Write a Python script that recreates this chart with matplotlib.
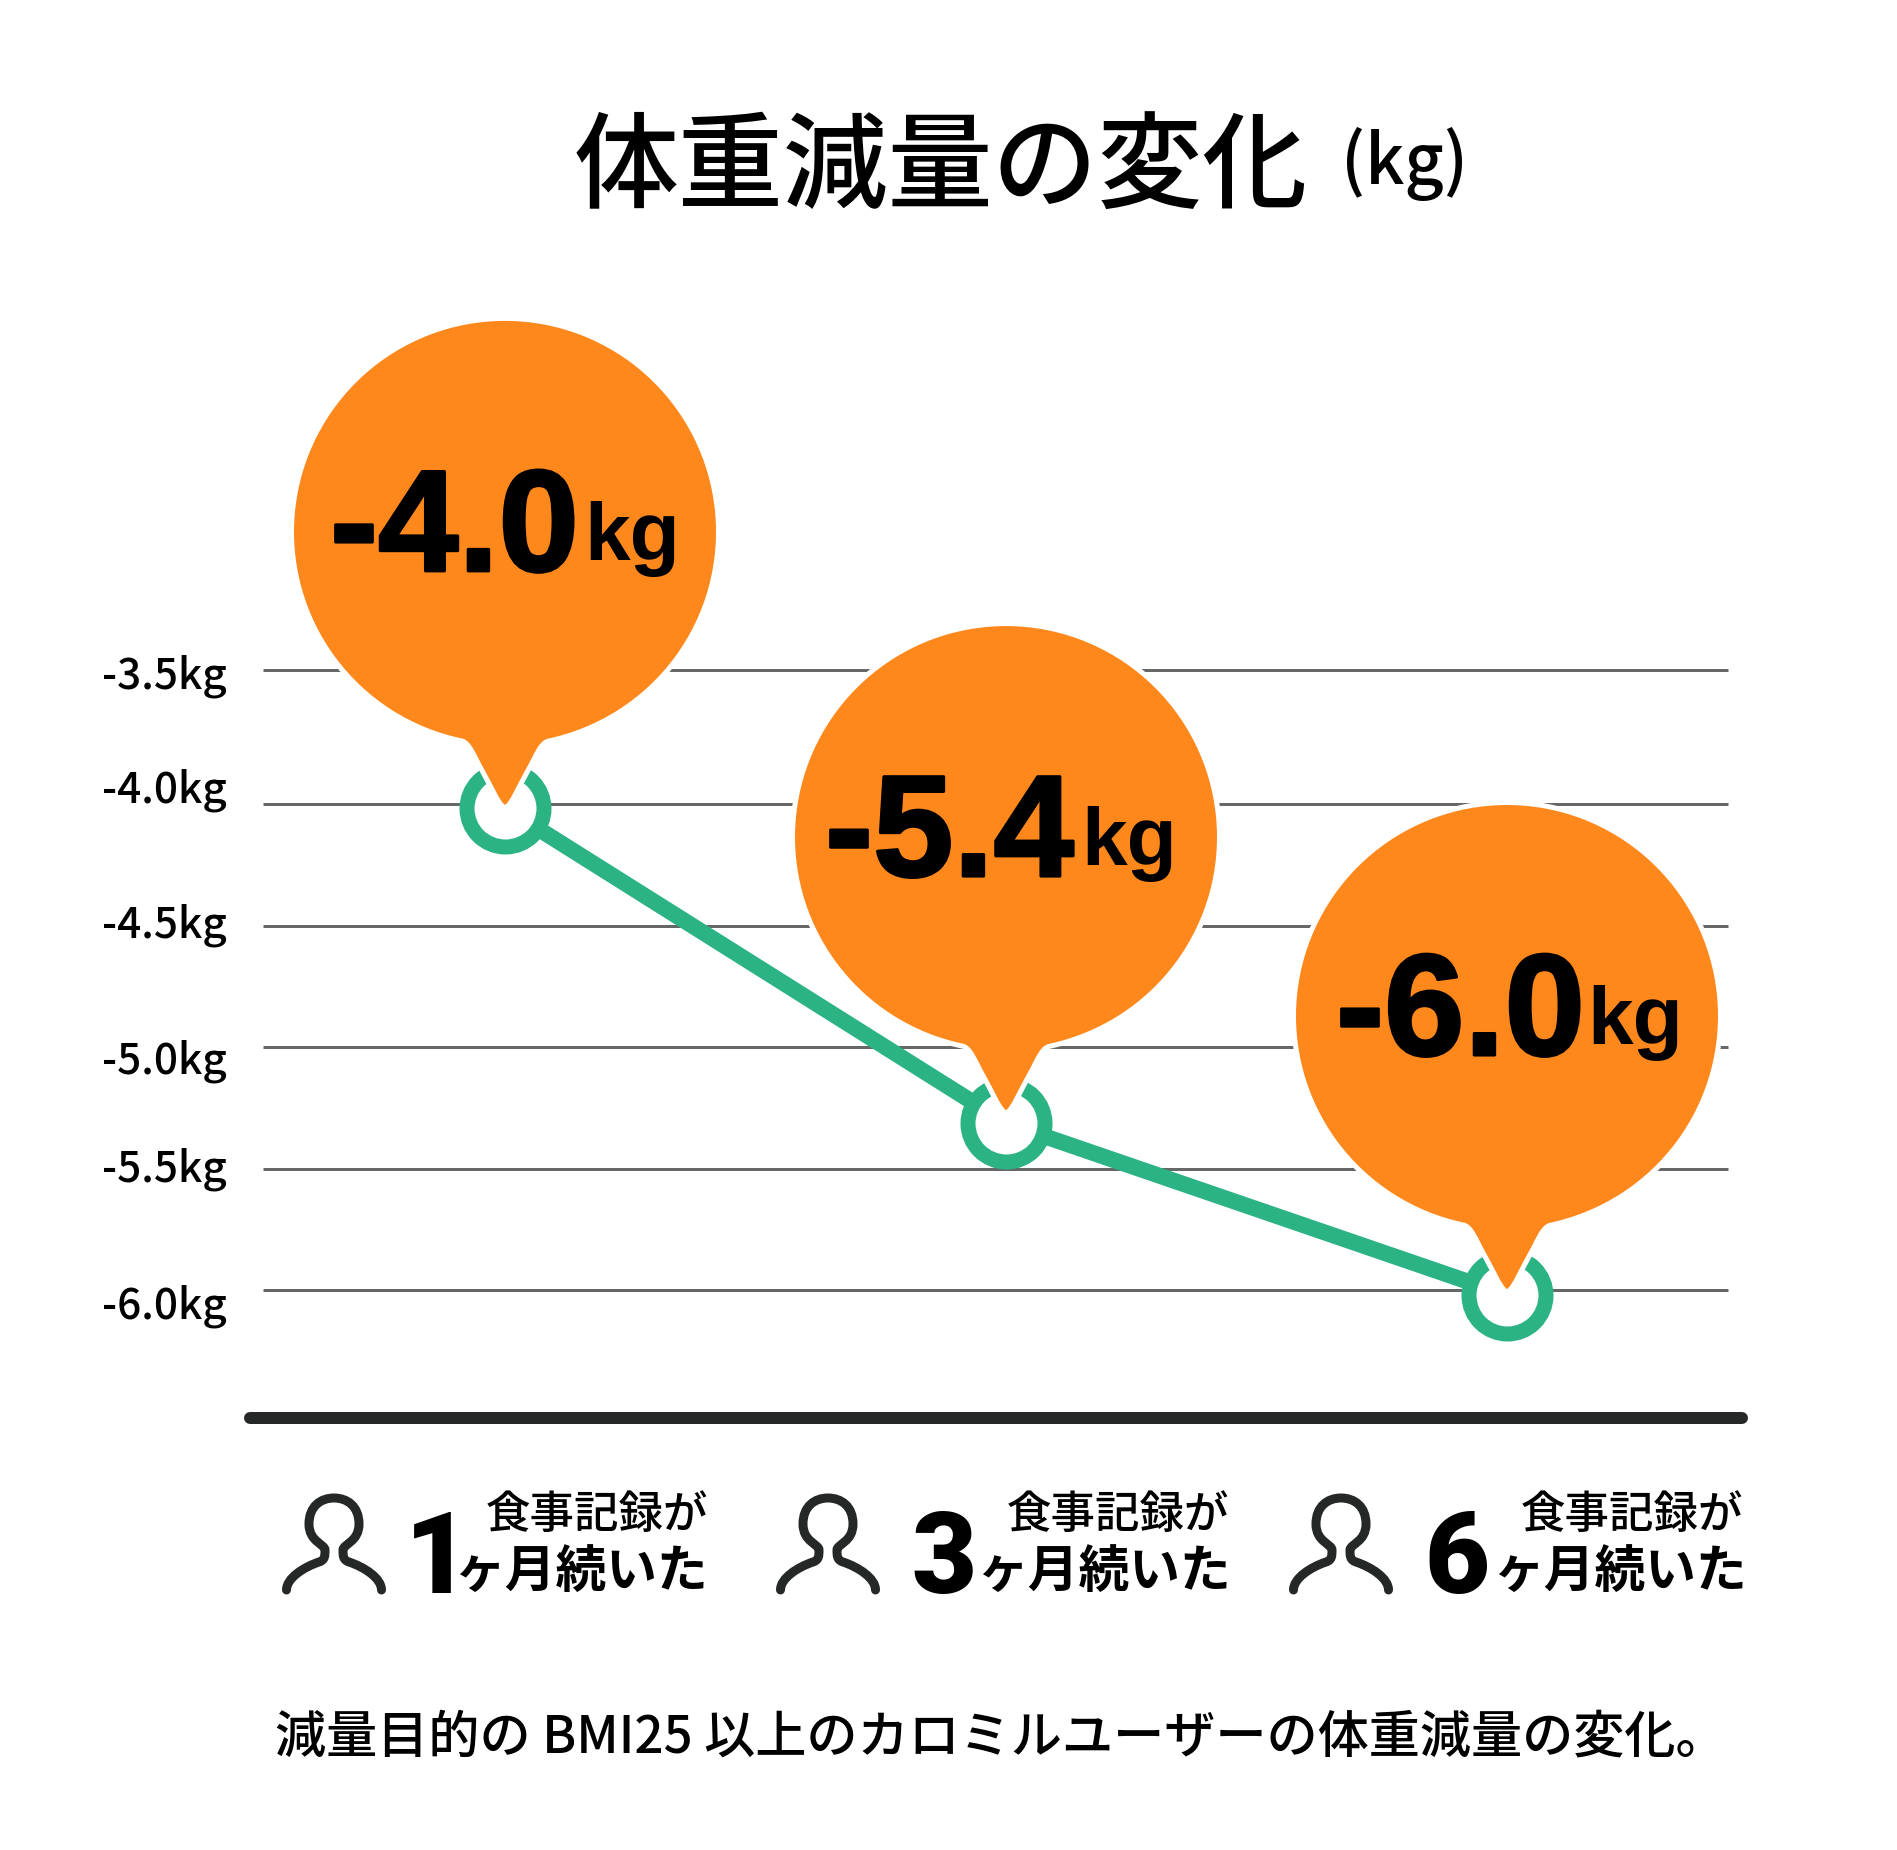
#!/usr/bin/python
# -*- coding: utf-8 -*-

import numpy as np
import matplotlib
matplotlib.use('Agg')
import matplotlib.pyplot as plt
import matplotlib.patheffects as pe
from matplotlib.patches import PathPatch
from matplotlib.path import Path
from matplotlib.transforms import Affine2D

plt.rcParams['font.family'] = ['Noto Sans CJK JP', 'DejaVu Sans']

# values
months = [1, 3, 6]
plotted_values = [-4.016, -5.312, -6.019]
bubble_labels = ['-4.0', '-5.4', '-6.0']
grid_values = [-3.447, -4.0, -4.5, -5.0, -5.5, -6.0]
tick_labels = ['-3.5kg', '-4.0kg', '-4.5kg', '-5.0kg', '-5.5kg', '-6.0kg']
baseline_value = -6.525

title = '体重減量の変化'
title_unit = '(kg)'
line_top = '食事記録が'
line_bottom = 'ヶ月続いた'
footer = '減量目的の BMI25 以上のカロミルユーザーの体重減量の変化。'

W, H = 1897, 1850
PX = 72.0 / 100  # one pixel in points at dpi 100

ORANGE = '#FF881C'
GREEN = '#2BB383'
DARK = '#262828'
GRID = '#666868'

BIG = 'Liberation Sans'


def px(x, y):
    # picture pixel (origin top left) to figure fraction
    return x / W, 1 - y / H


def bubble_path():
    # pin shape with its tip at the origin, in pixels
    r = 211.0
    cy = 273.0
    a = np.degrees(np.arctan2(-207.0, 42.0))
    arc = Path.arc(a, 180 - a)
    verts = [(0, 0), (5, 3), (12, 20), (21, 36), (29, 50), (33, 63), (42, 66)]
    codes = [Path.MOVETO] + [Path.CURVE4] * 6
    arc_v = arc.vertices * r + [0, cy]
    verts += [tuple(v) for v in arc_v[1:]]
    codes += list(arc.codes[1:])
    verts += [(-33, 63), (-29, 50), (-21, 36), (-12, 20), (-5, 3), (0, 0)]
    codes += [Path.CURVE4] * 6
    return Path(verts, codes)


def person_path():
    # outline of the person icon, origin at the bottom middle, in pixels
    pts = [
        (-47.5, -4), (-47.5, -16), (-30, -27), (-15, -32),
        (-9, -34), (-9, -38), (-9, -44),
        (-9, -50), (-25, -52), (-25, -70),
        (-25, -88), (-13, -96), (0, -96),
        (13, -96), (25, -88), (25, -70),
        (25, -52), (9, -50), (9, -44),
        (9, -38), (9, -34), (15, -32),
        (30, -27), (47.5, -16), (47.5, -4),
    ]
    pts = [(x, -y - 4) for x, y in pts]
    return Path(pts, [Path.MOVETO] + [Path.CURVE4] * 24)


fig = plt.figure(figsize=(W / 100, H / 100), dpi=100, facecolor='white')
ax = fig.add_axes([0, 0, 1, 1])
ax.set_xlim((0 - 505) / 501.0, (W - 505) / 501.0)
ax.set_ylim(-4 - (H - 804) / 243.2, -4 + 804 / 243.2)
ax.axis('off')

x = np.arange(len(months))

ax.hlines(grid_values, -0.483, 2.441, color=GRID, lw=3 * PX, zorder=1)
ax.plot([-0.508, 2.469], [baseline_value] * 2, color=DARK, lw=12 * PX,
        solid_capstyle='round', zorder=1)

ax.plot(x, plotted_values, color=GREEN, lw=16 * PX, zorder=2, solid_capstyle='butt')
ax.plot(x, plotted_values, ls='none', marker='o', ms=77 * PX, mew=15 * PX,
        mfc='white', mec=GREEN, zorder=3)

# y axis labels do not sit exactly on their lines in the original
label_drop = [18.5, -1, 12, 26, 13, 28]
for val, lab, drop in zip(grid_values, tick_labels, label_drop):
    ax.annotate(lab, xy=(0, val), xycoords=('figure fraction', 'data'),
                xytext=(102, -drop), textcoords='offset pixels',
                fontsize=30.5, fontweight='medium', ha='left', va='baseline',
                color='black')

# pins with the value inside
tip_offset = [3, 13, 6]
value_dx = [-175, -181, -171]
unit_dx = [79, 75, 80]
pin = bubble_path()
heavy = [pe.withStroke(linewidth=2.2, foreground='black')]
for i, (xi, yi, lab) in enumerate(zip(x, plotted_values, bubble_labels)):
    tx, ty = ax.transData.transform((xi, yi))
    ty += tip_offset[i]
    tr = Affine2D().translate(tx, ty)
    ax.add_patch(PathPatch(pin, transform=tr, fc='white', ec='white',
                           lw=10 * PX, zorder=4, clip_on=False))
    ax.add_patch(PathPatch(pin, transform=tr, fc=ORANGE, ec='none',
                           zorder=5, clip_on=False))
    fig.text(tx + value_dx[i], ty + 234, lab, transform=None, family=BIG,
             fontweight='bold', fontsize=104, ha='left', va='baseline',
             color='black', zorder=6, path_effects=heavy)
    fig.text(tx + unit_dx[i], ty + 245, 'kg', transform=None, family=BIG,
             fontweight='bold', fontsize=59, ha='left', va='baseline',
             color='black', zorder=6)

# title
fig.text(*px(574, 200), title, fontsize=75.5, fontweight='medium', ha='left', va='baseline')
fig.text(*px(1341, 184), title_unit, fontsize=49, fontweight='medium', ha='left', va='baseline')

# month captions
icon_x = [334, 828, 1341]
digit_x = [405, 911, 1424]
right_top = [708, 1229, 1743]
right_bottom = [708, 1231, 1747]
person = person_path()
for i, m in enumerate(months):
    tr = Affine2D().translate(icon_x[i], H - 1590)
    ax.add_patch(PathPatch(person, transform=tr, fc='none', ec=DARK, lw=9 * PX,
                           capstyle='round', joinstyle='round', clip_on=False))
    fig.text(*px(digit_x[i], 1593), str(m), family='Roboto', fontweight='black', fontsize=81,
             ha='left', va='baseline', color='black')
    fig.text(*px(right_top[i], 1528), line_top, fontsize=32, fontweight='medium',
             ha='right', va='baseline', color='black')
    fig.text(*px(right_bottom[i], 1587), line_bottom, fontsize=36.5, fontweight='bold',
             ha='right', va='baseline', color='black')

fig.text(*px(275, 1752), footer, fontsize=36.8, fontweight='medium', ha='left',
         va='baseline', color='black')

fig.savefig('out.png', dpi=100, facecolor='white')
